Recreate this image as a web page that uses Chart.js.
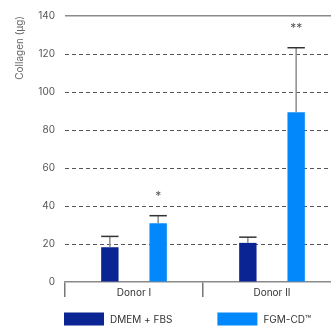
<!DOCTYPE html>
<html>
<head>
<meta charset="utf-8">
<script src="https://cdn.jsdelivr.net/npm/chart.js@4.4.1/dist/chart.umd.min.js"></script>
<style>
    html, body { margin: 0; padding: 0; background: #fff; overflow: hidden; }
    #wrap { width: 341px; height: 331px; }
</style>
</head>
<body>
<div id="wrap"><canvas id="collagen-bar" width="341" height="331"></canvas></div>
<script>
// Data
const donors = ["Donor I", "Donor II"];
const dmem_values = [18.3, 20.6];
const dmem_errors = [5.7, 3.0];
const fgm_values = [30.9, 89.3];
const fgm_errors = [4.0, 34.0];
const fgm_significance = ["*", "**"];
const series_names = ["DMEM + FBS", "FGM-CD\u2122"];
const y_max = 140;
const y_step = 20;

const font_family = "Inter, 'Noto Sans', sans-serif";

// error bars on top of each bar (upper half only)
const errorBars = {
    id: "errorBars",
    afterDatasetsDraw(chart) {
        const ctx = chart.ctx;
        const y = chart.scales.y;
        chart.data.datasets.forEach((ds, di) => {
            const meta = chart.getDatasetMeta(di);
            meta.data.forEach((bar, i) => {
                const top = y.getPixelForValue(ds.data[i] + ds.errors[i]);
                ctx.save();
                ctx.lineWidth = 1.5;
                ctx.strokeStyle = "#8c8c8c";
                ctx.beginPath();
                ctx.moveTo(bar.x, bar.y);
                ctx.lineTo(bar.x, top);
                ctx.stroke();
                ctx.strokeStyle = "#333";
                ctx.beginPath();
                ctx.moveTo(bar.x - bar.width / 2, top);
                ctx.lineTo(bar.x + bar.width / 2, top);
                ctx.stroke();
                // significance stars
                if (ds.stars && ds.stars[i]) {
                    ctx.fillStyle = "#555";
                    ctx.font = "12px " + font_family;
                    ctx.textAlign = "center";
                    ctx.textBaseline = "alphabetic";
                    ctx.fillText(ds.stars[i], bar.x, top - 16);
                }
                ctx.restore();
            });
        });
    }
};

// legend drawn by hand so the boxes sit where the reference has them
const boxLegend = {
    id: "boxLegend",
    afterDraw(chart) {
        const ctx = chart.ctx;
        let x = 64;
        const top = 312.5;
        ctx.save();
        ctx.font = "10px " + font_family;
        ctx.textBaseline = "middle";
        ctx.textAlign = "left";
        chart.data.datasets.forEach((ds) => {
            ctx.fillStyle = ds.backgroundColor;
            ctx.fillRect(x, top, 40, 13);
            ctx.fillStyle = "#333";
            ctx.fillText(ds.label, x + 46, top + 7);
            x += 46 + ctx.measureText(ds.label).width + 45;
        });
        ctx.restore();
    }
};

const bar_data = {
    labels: donors,
    datasets: [{
        label: series_names[0],
        data: dmem_values,
        errors: dmem_errors,
        backgroundColor: "#0a2494",
        categoryPercentage: 0.7,
        barPercentage: 0.36
    },
    {
        label: series_names[1],
        data: fgm_values,
        errors: fgm_errors,
        stars: fgm_significance,
        backgroundColor: "#0388fb",
        categoryPercentage: 0.7,
        barPercentage: 0.36
    }]
};

const config_bar = {
    type: "bar",
    data: bar_data,
    options: {
        responsive: false,
        animation: false,
        devicePixelRatio: 1,
        layout: {
            padding: { top: 15, bottom: 29, left: 0, right: 0 }
        },
        plugins: {
            legend: { display: false },
            tooltip: { enabled: false }
        },
        scales: {
            x: {
                afterFit: (scale) => { scale.height = 20; },
                grid: {
                    offset: true,
                    drawOnChartArea: false,
                    drawTicks: true,
                    tickLength: 15,
                    color: "#777",
                    lineWidth: 1.5
                },
                border: { display: true, color: "#8a8a8a", width: 1.5 },
                ticks: {
                    color: "#333",
                    padding: -10,
                    font: { family: font_family, size: 10 }
                }
            },
            y: {
                min: 0,
                max: y_max,
                afterFit: (scale) => { scale.width = 65; },
                ticks: {
                    stepSize: y_step,
                    color: "#555",
                    padding: 10,
                    font: { family: font_family, size: 10 }
                },
                grid: {
                    drawTicks: false,
                    color: (c) => c.tick.value === 0 ? "rgba(0,0,0,0)" : (c.tick.value === y_max ? "#8a8a8a" : "#555"),
                    lineWidth: (c) => c.tick.value === y_max ? 1.5 : 1
                },
                border: {
                    display: false,
                    dash: (c) => c.tick && c.tick.value === y_max ? [] : [4, 3]
                },
                title: {
                    display: true,
                    text: "Collagen (\u00b5g)",
                    align: "end",
                    color: "#666",
                    padding: { top: 14, bottom: 0 },
                    font: { family: font_family, size: 10 }
                }
            }
        }
    },
    plugins: [errorBars, boxLegend]
};

new Chart(document.getElementById("collagen-bar").getContext("2d"), config_bar);
</script>
</body>
</html>
